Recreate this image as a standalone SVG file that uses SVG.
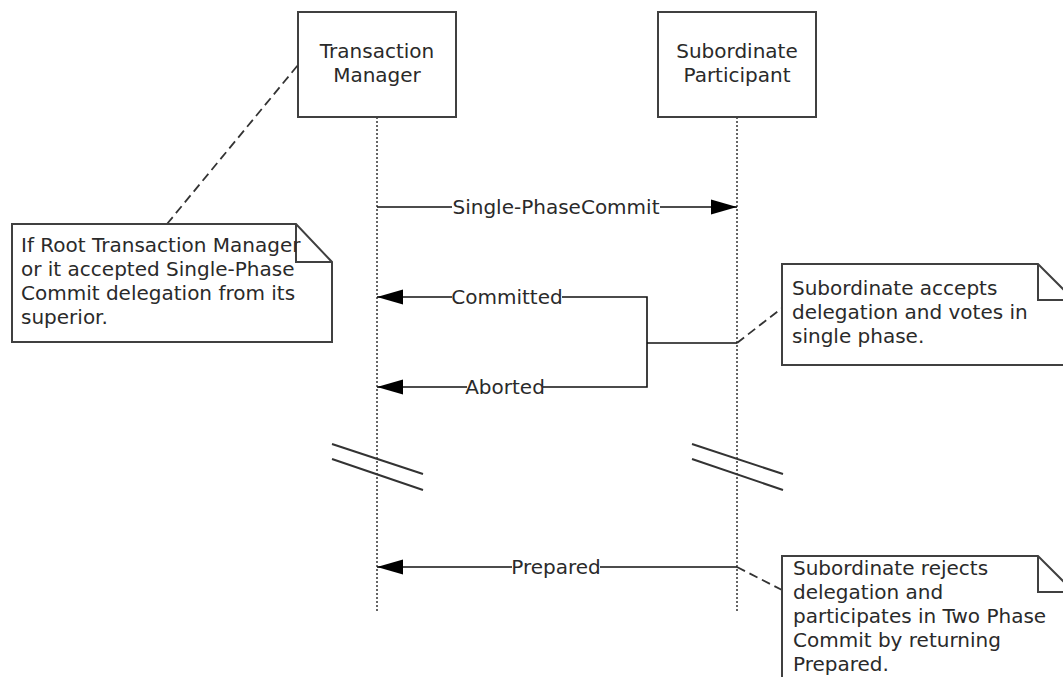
<svg xmlns="http://www.w3.org/2000/svg" width="1063" height="677" viewBox="0 0 1063 677">
<style>
text{font-family:"DejaVu Sans","Liberation Sans",sans-serif;font-size:20px;fill:#2a2a2a}
.box{fill:#fff;stroke:#404040;stroke-width:2}
.life{stroke:#333;stroke-width:1.5;stroke-dasharray:2 2;fill:none}
.msg{stroke:#111;stroke-width:1.6;fill:none}
.note{fill:#fff;stroke:#404040;stroke-width:2}
.fold{fill:none;stroke:#404040;stroke-width:2}
.anchor{stroke:#333;stroke-width:1.8;stroke-dasharray:9 5;fill:none}
.brk{stroke:#333;stroke-width:2;fill:none}
.c{text-anchor:middle}
</style>
<defs>
<marker id="ah" markerUnits="userSpaceOnUse" markerWidth="26" markerHeight="16" viewBox="0 0 24 14" refX="24" refY="7" orient="auto">
<path d="M0,0 L24,7 L0,14 Z" fill="#000"/>
</marker>
</defs>
<g id="lifelines">
<line class="life" x1="377" y1="117" x2="377" y2="612"/>
<line class="life" x1="737" y1="117" x2="737" y2="612"/>
</g>
<g id="tm">
<rect class="box" x="298" y="12" width="158" height="105"/>
<text class="c" x="377" y="58">Transaction</text>
<text class="c" x="377" y="82">Manager</text>
</g>
<g id="sp">
<rect class="box" x="658" y="12" width="158" height="105"/>
<text class="c" x="737" y="58">Subordinate</text>
<text class="c" x="737" y="82">Participant</text>
</g>
<g id="connectors">
<line class="msg" x1="377" y1="207" x2="452" y2="207"/>
<line class="msg" x1="660" y1="207" x2="737" y2="207" marker-end="url(#ah)"/>
<text class="c" x="556" y="214">Single-PhaseCommit</text>
<line class="msg" x1="452" y1="297" x2="377" y2="297" marker-end="url(#ah)"/>
<polyline class="msg" points="562,297 647,297 647,387 543,387"/>
<line class="msg" x1="647" y1="343" x2="737" y2="343"/>
<text class="c" x="507" y="304">Committed</text>
<line class="msg" x1="467" y1="387" x2="377" y2="387" marker-end="url(#ah)"/>
<text class="c" x="505" y="394">Aborted</text>
<line class="msg" x1="512" y1="567" x2="377" y2="567" marker-end="url(#ah)"/>
<line class="msg" x1="600" y1="567" x2="737" y2="567"/>
<text class="c" x="556" y="574">Prepared</text>
<line class="anchor" x1="167" y1="224" x2="298" y2="65"/>
<line class="anchor" x1="737" y1="343" x2="782" y2="308"/>
<line class="anchor" x1="737" y1="567" x2="782" y2="590"/>
</g>
<g id="breaks">
<line class="brk" x1="332" y1="444" x2="423" y2="474"/>
<line class="brk" x1="332" y1="459" x2="423" y2="490"/>
<line class="brk" x1="692" y1="444" x2="783" y2="474"/>
<line class="brk" x1="692" y1="459" x2="783" y2="490"/>
</g>
<g id="note1">
<path class="note" d="M12,224 H296 L332,262 V342 H12 Z"/>
<path class="fold" d="M296,224 V262 H332"/>
<text x="21" y="252">If Root Transaction Manager</text>
<text x="21" y="276">or it accepted Single-Phase</text>
<text x="21" y="300">Commit delegation from its</text>
<text x="21" y="324">superior.</text>
</g>
<g id="note2">
<path class="note" d="M782,264 H1038 L1074,300 V365 H782 Z"/>
<path class="fold" d="M1038,264 V300 H1074"/>
<text x="792" y="295">Subordinate accepts</text>
<text x="792" y="319">delegation and votes in</text>
<text x="792" y="343">single phase.</text>
</g>
<g id="note3">
<path class="note" d="M782,556 H1038 L1074,592 V700 H782 Z"/>
<path class="fold" d="M1038,556 V592 H1074"/>
<text x="793" y="575">Subordinate rejects</text>
<text x="793" y="599">delegation and</text>
<text x="793" y="623">participates in Two Phase</text>
<text x="793" y="647">Commit by returning</text>
<text x="793" y="671">Prepared.</text>
</g>
</svg>
